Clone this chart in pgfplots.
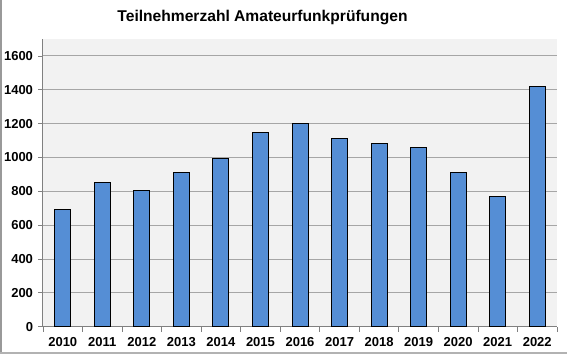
\documentclass[border=0pt]{standalone}
\usepackage{pgfplots}
\pgfplotsset{compat=1.18}
\usepackage{fontspec}
\setmainfont{Liberation Sans}
\definecolor{barblue}{HTML}{558ED5}
\definecolor{plotbg}{HTML}{F2F2F2}
\definecolor{gridgray}{HTML}{A6A6A6}
\begin{document}
\begin{tikzpicture}[x=1bp,y=1bp]
\path[use as bounding box] (-43,-29.3) rectangle (524,326.7);
\fill[white] (-43,-29.3) rectangle (524,326.7);
\draw[gray!80, line width=1.6bp] (-42.2,-26.3) -- (-42.2,326.7);
\draw[gray!60, line width=1.2bp] (-43,-26.3) -- (524,-26.3);
\begin{axis}[
  at={(0,0)}, anchor=south west,
  scale only axis, width=514bp, height=287.7bp,
  axis background/.style={fill=plotbg},
  ybar, bar width=16bp,
  xmin=-0.5, xmax=12.5, ymin=0, ymax=1700,
  xtick=data,
  xticklabels={2010,2011,2012,2013,2014,2015,2016,2017,2018,2019,2020,2021,2022},
  minor xtick={-0.5,0.5,...,12.5},
  ytick={0,200,...,1600},
  ymajorgrids, grid style={gridgray, line width=1bp},
  axis x line*=bottom, axis y line*=left,
  axis line style={gray, line width=1bp},
  x axis line style={-}, y axis line style={-},
  major x tick style={draw=none},
  minor x tick style={gray, line width=0.8bp},
  minor tick length=5bp,
  xtick pos=bottom, ytick pos=left,
  tick align=outside,
  y tick style={gray, line width=0.8bp}, major tick length=5bp,
  tick label style={font=\fontsize{13bp}{15bp}\selectfont\bfseries},
  /pgf/number format/assume math mode=true,
  /pgf/number format/1000 sep={},
  yticklabel style={xshift=-1.5bp},
  xticklabel style={yshift=-2bp},
  clip=false,
]
\addplot[fill=barblue, draw=black, line width=0.9bp] coordinates {
(0,690) (1,855) (2,805) (3,910) (4,995) (5,1145) (6,1200) (7,1115) (8,1085) (9,1060) (10,910) (11,770) (12,1420)
};
\end{axis}
\node[anchor=base, font=\fontsize{15.6bp}{18bp}\selectfont\bfseries] at (219.5,305.4) {Teilnehmerzahl Amateurfunkprüfungen};
\end{tikzpicture}
\end{document}
